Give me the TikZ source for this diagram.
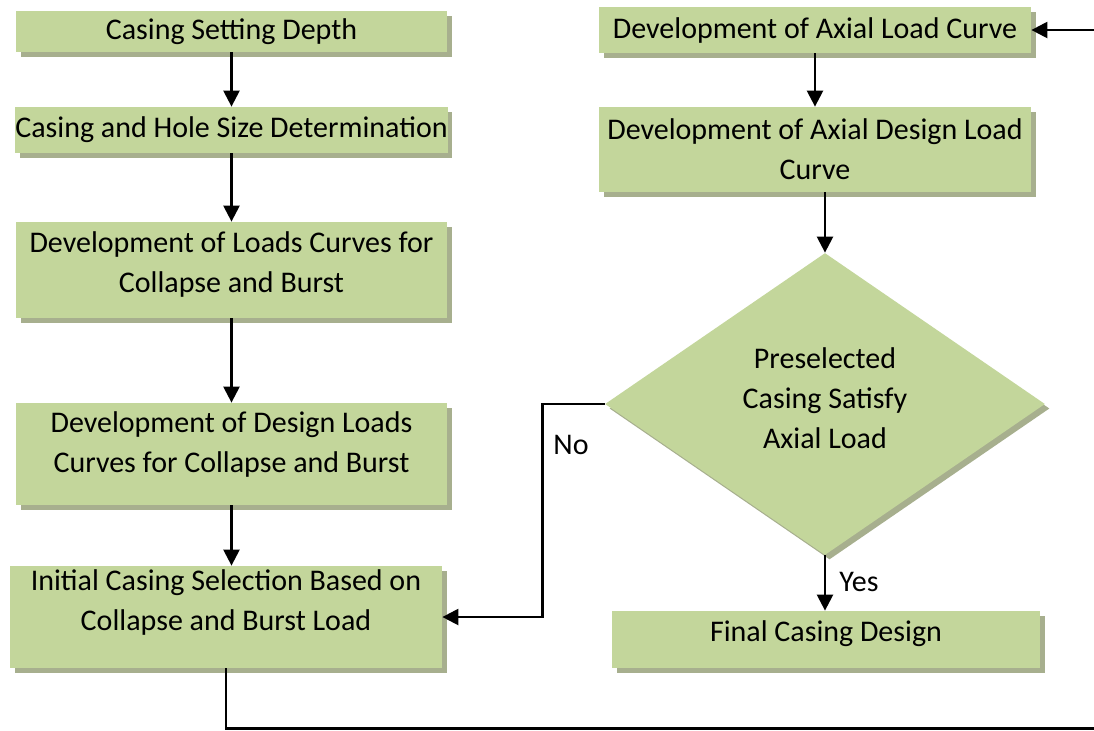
\documentclass[tikz,border=0pt]{standalone}
\usepackage{fontspec}
\setmainfont{Carlito}
\usetikzlibrary{shapes.geometric,shadows,arrows.meta}
\definecolor{boxgreen}{HTML}{C3D69B}
\definecolor{shadegreen}{HTML}{A7AF8E}
% invisible strut that pushes the text up
\newcommand{\lowpad}[1]{\rule[-#1]{0pt}{#1}}
\tikzset{
  stage/.style={rectangle, fill=boxgreen, align=center, inner sep=0pt,
    drop shadow={shadow xshift=2.25pt, shadow yshift=-2.25pt, fill=shadegreen, opacity=1}},
  decision/.style={diamond, fill=boxgreen, align=center, inner sep=0pt, aspect=1.46,
    minimum width=220pt, minimum height=151pt,
    drop shadow={shadow xshift=2.25pt, shadow yshift=-2.25pt, fill=shadegreen, opacity=1}},
  flow/.style={-{Triangle[width=8pt,length=8pt]}, line width=1.2pt},
}
\begin{document}
\begin{tikzpicture}[x=0.5pt, y=-0.5pt, font=\fontsize{15}{20}\selectfont]
        \clip (0,0) rectangle (1094,730);
        % left column
        \node [stage, minimum width=215.5pt, minimum height=20.5pt] (depth) at (231.5,31.5) {Casing Setting Depth};
        \node [stage, minimum width=215.5pt, minimum height=23pt] (holesize) at (231.5,130) {Casing and Hole Size Determination};
        \node [stage, minimum width=215.5pt, minimum height=48pt] (loadcurves) at (231.5,270) {Development of Loads Curves for\\Collapse and Burst\lowpad{8pt}};
        \node [stage, minimum width=215.5pt, minimum height=51pt] (designcurves) at (231.5,454) {Development of Design Loads\\Curves for Collapse and Burst\lowpad{12pt}};
        \node [stage, minimum width=216pt, minimum height=51pt] (initsel) at (226,617) {Initial Casing Selection Based on\\Collapse and Burst Load\lowpad{17pt}};
        % right column
        \node [stage, minimum width=216pt, minimum height=23pt] (axial) at (815,30) {Development of Axial Load Curve};
        \node [stage, minimum width=216pt, minimum height=42.5pt] (axialdesign) at (815,149.5) {Development of Axial Design Load\\Curve};
        \node [decision] (check) at (825,404) {Preselected\\Casing Satisfy\\Axial Load\lowpad{6pt}};
        \node [stage, minimum width=214pt, minimum height=28.5pt] (final) at (826,639.5) {Final Casing Design\lowpad{8pt}};
        % labels
        \node (nolabel) at (571,445) {No};
        \node (yeslabel) at (859,582) {Yes};
        % arrows
        \draw [flow] (depth) -- (holesize);
        \draw [flow] (holesize) -- (loadcurves);
        \draw [flow] (loadcurves) -- (designcurves);
        \draw [flow] (designcurves.south) -- (designcurves.south |- initsel.north);
        \draw [flow] (axial) -- (axialdesign);
        \draw [flow] (check.north |- axialdesign.south) -- (check.north);
        \draw [flow] (check.south) -- (check.south |- final.north);
        \draw [flow] (check.west) -- ++(-62,0) |- (initsel.east);
        % loop back to the axial load curve
        \coordinate (edge) at (1096,728.5);
        \draw [flow] (initsel.south) |- (edge) |- (axial.east);
\end{tikzpicture}
\end{document}
